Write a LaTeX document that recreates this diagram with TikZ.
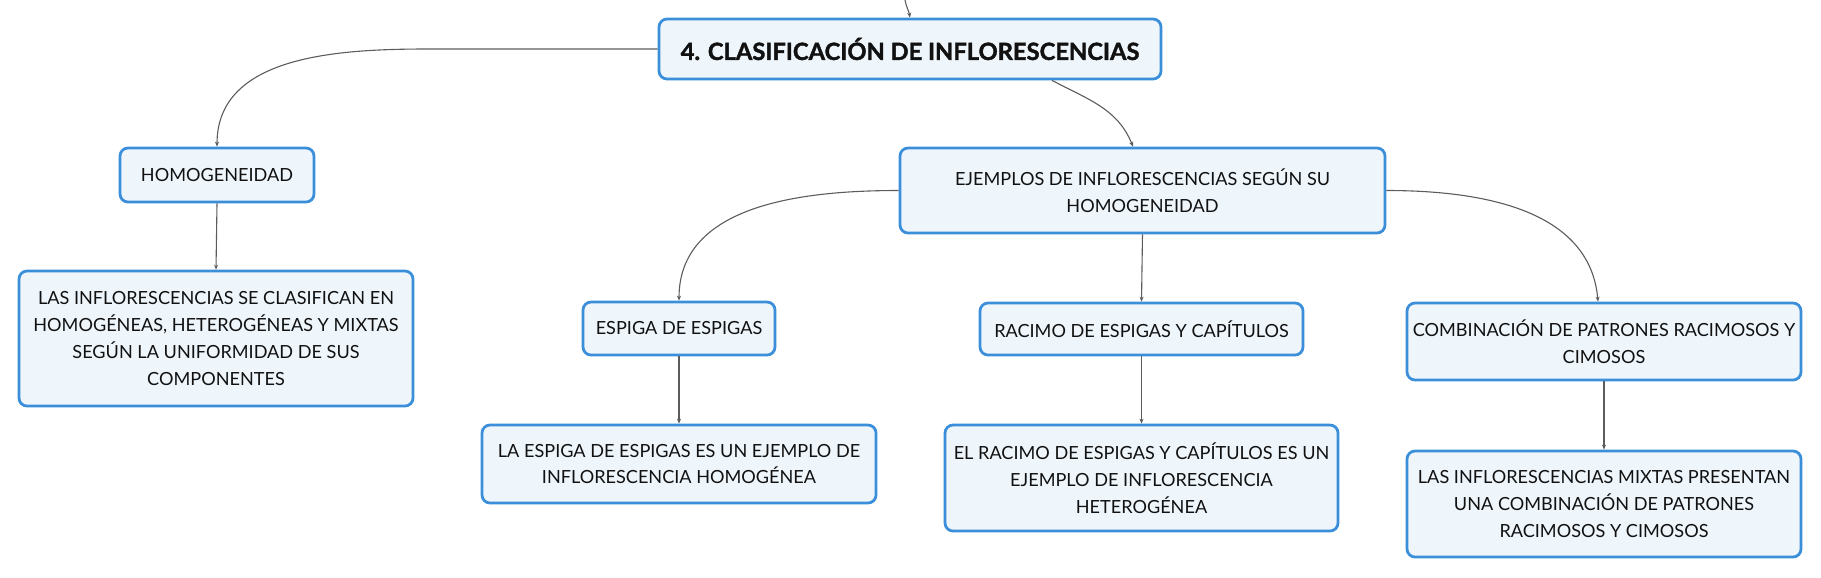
\documentclass[tikz,border=0pt]{standalone}
\usepackage{fontspec}
\setmainfont{Lato}
\newfontfamily\titulofont[BoldFeatures={FakeBold=1.6}]{Lato}
\usetikzlibrary{arrows.meta}
\definecolor{cajaborde}{HTML}{3B8FDA}
\definecolor{cajafondo}{HTML}{EEF6FC}
\definecolor{enlacegris}{HTML}{5C5C5C}
\definecolor{texto}{HTML}{111111}

\begin{document}
\begin{tikzpicture}[
        caja/.style={draw=cajaborde, fill=cajafondo, line width=0.055cm, rounded corners=0.16cm, align=center, inner sep=0pt, text=texto, font=\fontsize{10.3}{15.3}\selectfont},
        enlace/.style={draw=enlacegris, line width=0.022cm, -{Stealth[length=0.1cm,width=0.08cm]}}
    ]

        \useasboundingbox (0,0) rectangle (36.42,-11.54);

        \node[caja, font=\titulofont\bfseries\fontsize{13.5}{16}\selectfont, minimum width=10.04cm, minimum height=1.2cm] (clasif) at (18.2,-0.98) {4. CLASIFICACIÓN DE INFLORESCENCIAS};
        \coordinate (padre) at (18.1,0);

        \node[caja, minimum width=3.88cm, minimum height=1.08cm] (homog) at (4.34,-3.5) {HOMOGENEIDAD};
        \node[caja, minimum width=7.88cm, minimum height=2.7cm] (clasifican) at (4.32,-6.77) {LAS INFLORESCENCIAS SE CLASIFICAN EN\\ HOMOGÉNEAS, HETEROGÉNEAS Y MIXTAS\\ SEGÚN LA UNIFORMIDAD DE SUS\\ COMPONENTES};

        \node[caja, minimum width=9.7cm, minimum height=1.7cm] (ejemplos) at (22.85,-3.81) {EJEMPLOS DE INFLORESCENCIAS SEGÚN SU\\ HOMOGENEIDAD};

        \node[caja, minimum width=3.84cm, minimum height=1.06cm] (espiga) at (13.58,-6.57) {ESPIGA DE ESPIGAS};
        \node[caja, minimum width=7.88cm, minimum height=1.56cm] (ejhomog) at (13.58,-9.28) {LA ESPIGA DE ESPIGAS ES UN EJEMPLO DE\\ INFLORESCENCIA HOMOGÉNEA};

        \node[caja, minimum width=6.46cm, minimum height=1.04cm] (racimo) at (22.83,-6.58) {RACIMO DE ESPIGAS Y CAPÍTULOS};
        \node[caja, minimum width=7.86cm, minimum height=2.12cm] (ejheter) at (22.83,-9.56) {EL RACIMO DE ESPIGAS Y CAPÍTULOS ES UN\\ EJEMPLO DE INFLORESCENCIA\\ HETEROGÉNEA};

        \node[caja, minimum width=7.88cm, minimum height=1.54cm] (combin) at (32.08,-6.83) {COMBINACIÓN DE PATRONES RACIMOSOS Y\\ CIMOSOS};
        \node[caja, minimum width=7.88cm, minimum height=2.12cm] (mixtas) at (32.08,-10.08) {LAS INFLORESCENCIAS MIXTAS PRESENTAN\\ UNA COMBINACIÓN DE PATRONES\\ RACIMOSOS Y CIMOSOS};

        % conectores
        \draw[enlace] (padre) to[out=-80,in=100] (clasif.north);
        \draw[enlace] (clasif.west) -- ++ (-4.58,0) to[out=180,in=90] (homog.north);
        \draw[enlace] ([xshift=2.84cm]clasif.south) to[out=-28,in=112] ([xshift=-0.19cm]ejemplos.north);
        \draw[enlace] (ejemplos.west) to[out=180,in=90] (espiga.north);
        \draw[enlace] (ejemplos.south) -- (racimo.north);
        \draw[enlace] (ejemplos.east) to[out=0,in=95] ([xshift=-0.12cm]combin.north);
        \draw[enlace] (homog.south) -- (clasifican.north);
        \draw[enlace] (espiga.south) -- (ejhomog.north);
        \draw[enlace] (racimo.south) -- (ejheter.north);
        \draw[enlace] (combin.south) -- (mixtas.north);
    \end{tikzpicture}
\end{document}
